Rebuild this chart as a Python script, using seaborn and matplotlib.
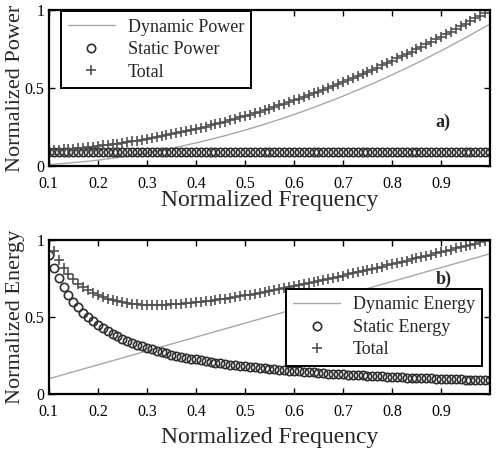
import matplotlib
matplotlib.use("Agg")
import matplotlib.pyplot as plt
import seaborn as sns

# normalized frequency, 0.10 .. 1.00
freq = [0.10, 0.11, 0.12, 0.13, 0.14, 0.15, 0.16, 0.17, 0.18, 0.19,
        0.20, 0.21, 0.22, 0.23, 0.24, 0.25, 0.26, 0.27, 0.28, 0.29,
        0.30, 0.31, 0.32, 0.33, 0.34, 0.35, 0.36, 0.37, 0.38, 0.39,
        0.40, 0.41, 0.42, 0.43, 0.44, 0.45, 0.46, 0.47, 0.48, 0.49,
        0.50, 0.51, 0.52, 0.53, 0.54, 0.55, 0.56, 0.57, 0.58, 0.59,
        0.60, 0.61, 0.62, 0.63, 0.64, 0.65, 0.66, 0.67, 0.68, 0.69,
        0.70, 0.71, 0.72, 0.73, 0.74, 0.75, 0.76, 0.77, 0.78, 0.79,
        0.80, 0.81, 0.82, 0.83, 0.84, 0.85, 0.86, 0.87, 0.88, 0.89,
        0.90, 0.91, 0.92, 0.93, 0.94, 0.95, 0.96, 0.97, 0.98, 0.99,
        1.00]

# a) power
dynamic_power = [0.010, 0.012, 0.014, 0.017, 0.019, 0.022, 0.025, 0.028, 0.031, 0.034,
                 0.038, 0.042, 0.046, 0.050, 0.054, 0.059, 0.063, 0.068, 0.073, 0.079,
                 0.084, 0.090, 0.095, 0.101, 0.107, 0.114, 0.120, 0.127, 0.134, 0.141,
                 0.148, 0.155, 0.163, 0.171, 0.179, 0.187, 0.195, 0.204, 0.212, 0.221,
                 0.230, 0.239, 0.249, 0.258, 0.268, 0.278, 0.288, 0.298, 0.309, 0.319,
                 0.330, 0.341, 0.352, 0.364, 0.375, 0.387, 0.399, 0.411, 0.423, 0.435,
                 0.448, 0.461, 0.474, 0.487, 0.500, 0.514, 0.527, 0.541, 0.555, 0.570,
                 0.584, 0.599, 0.613, 0.628, 0.643, 0.659, 0.674, 0.690, 0.706, 0.722,
                 0.738, 0.754, 0.771, 0.788, 0.805, 0.822, 0.839, 0.857, 0.874, 0.892,
                 0.910]
static_power = [0.09] * len(freq)
total_power = [0.100, 0.102, 0.104, 0.107, 0.109, 0.112, 0.115, 0.118, 0.121, 0.124,
               0.128, 0.132, 0.136, 0.140, 0.144, 0.149, 0.153, 0.158, 0.163, 0.169,
               0.174, 0.180, 0.185, 0.191, 0.197, 0.204, 0.210, 0.217, 0.224, 0.231,
               0.238, 0.245, 0.253, 0.261, 0.269, 0.277, 0.285, 0.294, 0.302, 0.311,
               0.320, 0.329, 0.339, 0.348, 0.358, 0.368, 0.378, 0.388, 0.399, 0.409,
               0.420, 0.431, 0.442, 0.454, 0.465, 0.477, 0.489, 0.501, 0.513, 0.525,
               0.538, 0.551, 0.564, 0.577, 0.590, 0.604, 0.617, 0.631, 0.645, 0.660,
               0.674, 0.689, 0.703, 0.718, 0.733, 0.749, 0.764, 0.780, 0.796, 0.812,
               0.828, 0.844, 0.861, 0.878, 0.895, 0.912, 0.929, 0.947, 0.964, 0.982,
               1.000]

# b) energy
line_freq = [0.1, 0.2, 0.3, 0.4, 0.5, 0.6, 0.7, 0.8, 0.9, 1.0]
dynamic_energy = [0.10, 0.19, 0.28, 0.37, 0.46, 0.55, 0.64, 0.73, 0.82, 0.91]
static_energy = [0.900, 0.818, 0.750, 0.692, 0.643, 0.600, 0.563, 0.529, 0.500, 0.474,
                 0.450, 0.429, 0.409, 0.391, 0.375, 0.360, 0.346, 0.333, 0.321, 0.310,
                 0.300, 0.290, 0.281, 0.273, 0.265, 0.257, 0.250, 0.243, 0.237, 0.231,
                 0.225, 0.220, 0.214, 0.209, 0.205, 0.200, 0.196, 0.191, 0.188, 0.184,
                 0.180, 0.176, 0.173, 0.170, 0.167, 0.164, 0.161, 0.158, 0.155, 0.153,
                 0.150, 0.148, 0.145, 0.143, 0.141, 0.138, 0.136, 0.134, 0.132, 0.130,
                 0.129, 0.127, 0.125, 0.123, 0.122, 0.120, 0.118, 0.117, 0.115, 0.114,
                 0.113, 0.111, 0.110, 0.108, 0.107, 0.106, 0.105, 0.103, 0.102, 0.101,
                 0.100, 0.099, 0.098, 0.097, 0.096, 0.095, 0.094, 0.093, 0.092, 0.091,
                 0.090]
total_energy = [1.000, 0.927, 0.868, 0.819, 0.779, 0.745, 0.717, 0.692, 0.672, 0.655,
                0.640, 0.628, 0.617, 0.608, 0.601, 0.595, 0.590, 0.586, 0.583, 0.581,
                0.580, 0.579, 0.579, 0.580, 0.581, 0.582, 0.584, 0.586, 0.589, 0.592,
                0.595, 0.599, 0.602, 0.606, 0.611, 0.615, 0.620, 0.624, 0.630, 0.635,
                0.640, 0.645, 0.651, 0.657, 0.663, 0.669, 0.675, 0.681, 0.687, 0.694,
                0.700, 0.707, 0.713, 0.720, 0.727, 0.733, 0.740, 0.747, 0.754, 0.761,
                0.769, 0.776, 0.783, 0.790, 0.798, 0.805, 0.812, 0.820, 0.827, 0.835,
                0.843, 0.850, 0.858, 0.865, 0.873, 0.881, 0.889, 0.896, 0.904, 0.912,
                0.920, 0.928, 0.936, 0.944, 0.952, 0.960, 0.968, 0.976, 0.984, 0.992,
                1.000]

sns.set_style("ticks")
plt.rcParams["font.family"] = ["Liberation Serif", "DejaVu Serif"]

line_col = "#a8a8a8"
circ_col = "#2e2e2e"
plus_col = "#505050"

fig = plt.figure(figsize=(4.98, 4.50), dpi=100)
ax1 = fig.add_axes([0.098, 0.631, 0.886, 0.347])
ax2 = fig.add_axes([0.098, 0.124, 0.886, 0.343])


def style_axis(ax):
    ax.set_xlim(0.1, 1.0)
    ax.set_ylim(0, 1)
    ax.set_xticks([0.1, 0.2, 0.3, 0.4, 0.5, 0.6, 0.7, 0.8, 0.9])
    ax.set_xticklabels(["0.1", "0.2", "0.3", "0.4", "0.5", "0.6", "0.7", "0.8", "0.9"])
    ax.set_yticks([0, 0.5, 1])
    ax.set_yticklabels(["0", "0.5", "1"])
    ax.tick_params(direction="in", top=True, right=True, length=4, width=1,
                   labelsize=11.5, colors="black")
    ax.tick_params(axis="x", pad=7)
    ax.tick_params(axis="y", pad=3)
    for s in ax.spines.values():
        s.set_visible(True)
        s.set_linewidth(1.6)
        s.set_color("black")


# top: power
sns.lineplot(x=freq, y=dynamic_power, ax=ax1, color=line_col, lw=1.0,
             label="Dynamic Power", errorbar=None)
sns.lineplot(x=freq, y=static_power, ax=ax1, linestyle="", marker="o", ms=6,
             mfc="none", mec=circ_col, mew=1.2, label="Static Power", errorbar=None)
sns.lineplot(x=freq, y=total_power, ax=ax1, linestyle="", marker="+", ms=7,
             mec=plus_col, mew=1.2, label="Total", errorbar=None)
style_axis(ax1)
ax1.set_xlabel("Normalized Frequency", fontsize=17, labelpad=-1)
ax1.set_ylabel("Normalized Power", fontsize=16, labelpad=0)
ax1.text(0.893, 0.28, "a)", transform=ax1.transAxes, fontsize=13,
         fontweight="bold", ha="center", va="center")
leg1 = ax1.legend(loc="upper left", bbox_to_anchor=(0.027, 0.99), borderaxespad=0,
                  fontsize=13, frameon=True, fancybox=False, framealpha=1,
                  edgecolor="black", handlelength=2.6, handletextpad=0.7,
                  labelspacing=0.3, borderpad=0.4)
leg1.get_frame().set_linewidth(1.4)

# bottom: energy
sns.lineplot(x=line_freq, y=dynamic_energy, ax=ax2, color=line_col, lw=1.0,
             label="Dynamic Energy", errorbar=None)
sns.lineplot(x=freq, y=static_energy, ax=ax2, linestyle="", marker="o", ms=6,
             mfc="none", mec=circ_col, mew=1.2, label="Static Energy", errorbar=None)
sns.lineplot(x=freq, y=total_energy, ax=ax2, linestyle="", marker="+", ms=7,
             mec=plus_col, mew=1.2, label="Total", errorbar=None)
style_axis(ax2)
ax2.set_xlabel("Normalized Frequency", fontsize=17, labelpad=5)
ax2.set_ylabel("Normalized Energy", fontsize=16, labelpad=0)
ax2.text(0.896, 0.745, "b)", transform=ax2.transAxes, fontsize=13,
         fontweight="bold", ha="center", va="center")
leg2 = ax2.legend(loc="upper right", bbox_to_anchor=(0.982, 0.68), borderaxespad=0,
                  fontsize=13, frameon=True, fancybox=False, framealpha=1,
                  edgecolor="black", handlelength=2.6, handletextpad=0.7,
                  labelspacing=0.3, borderpad=0.4)
leg2.get_frame().set_linewidth(1.4)

fig.savefig("out.png", dpi=100)
